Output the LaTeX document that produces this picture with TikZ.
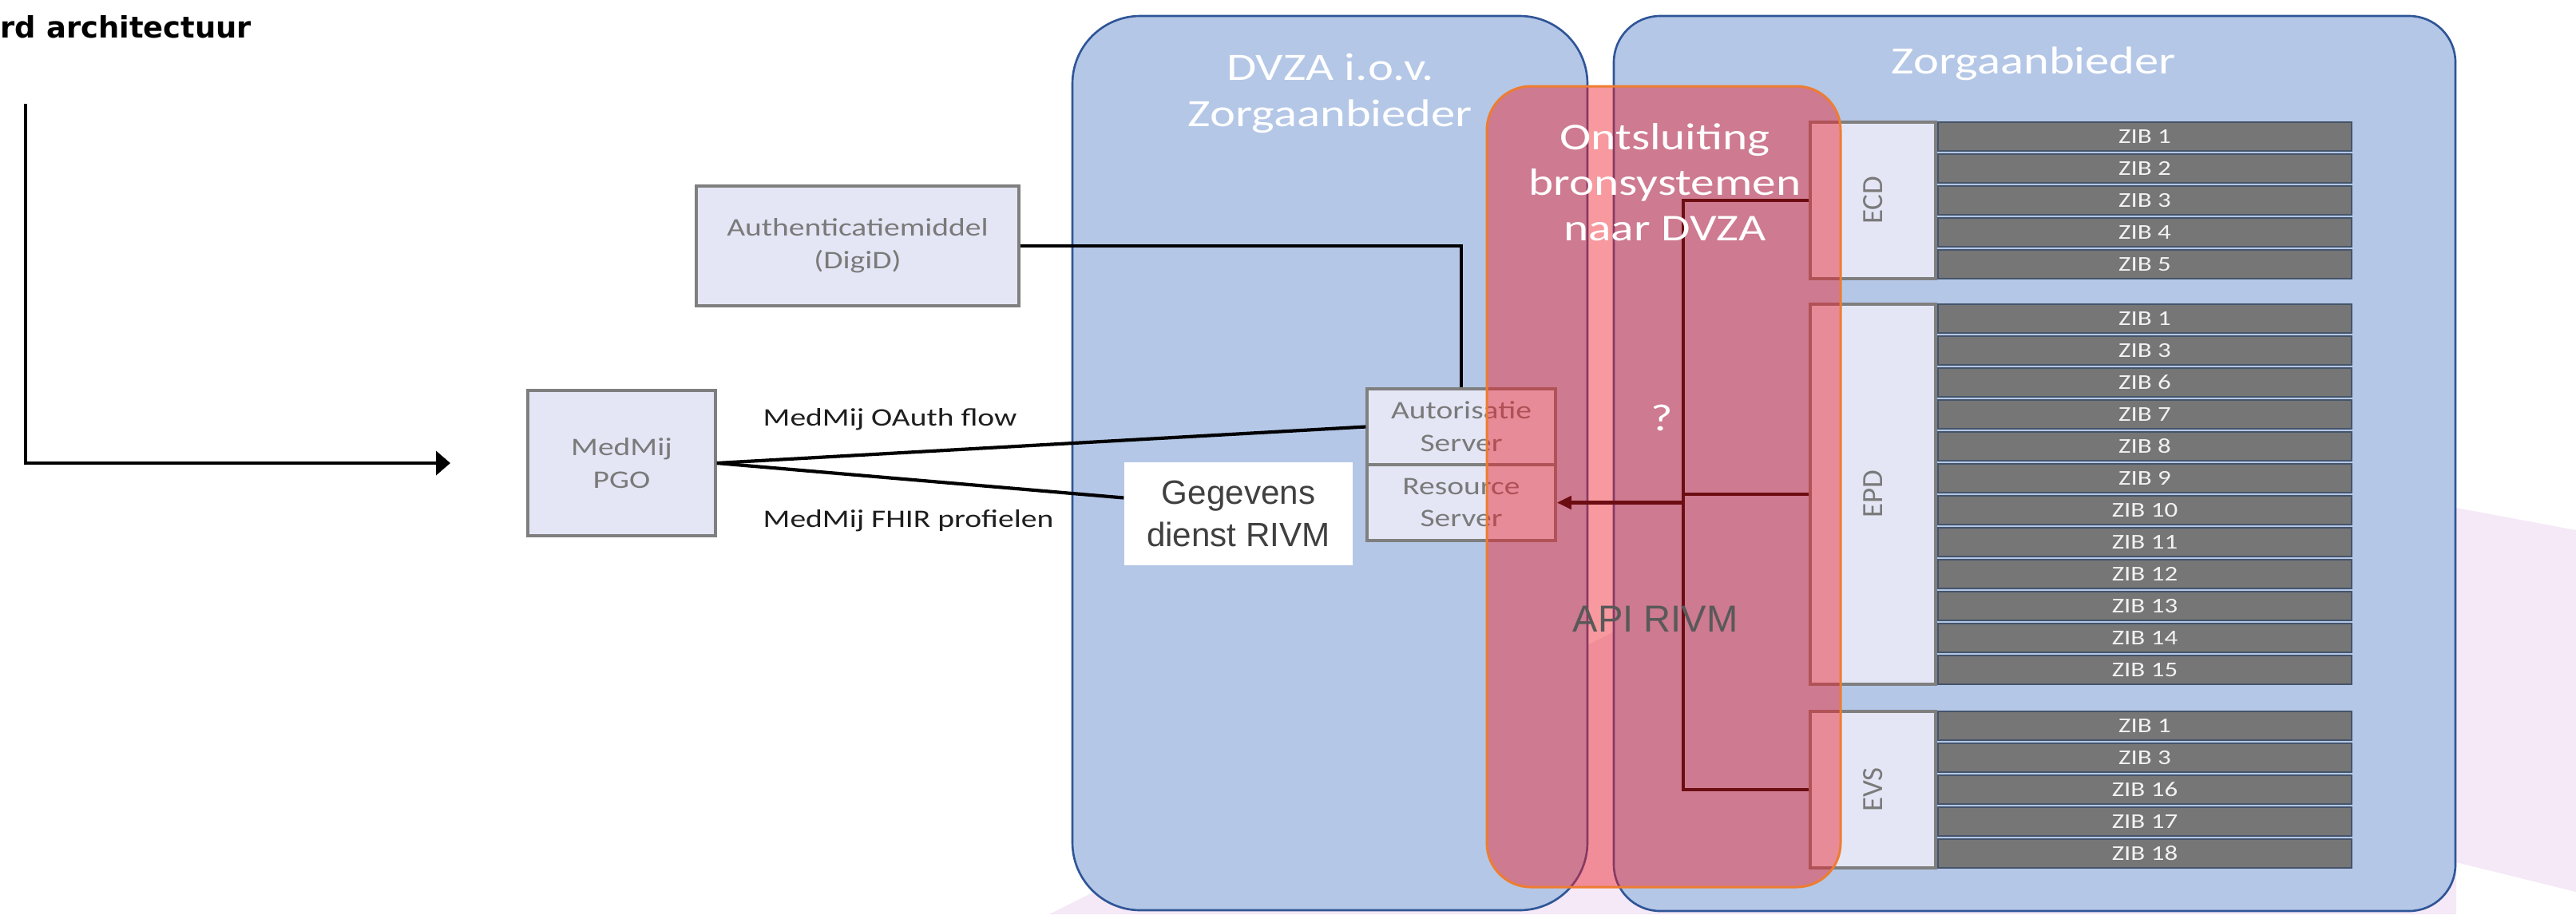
\documentclass[tikz,border=0pt]{standalone}
\usepackage{fontspec}
\usepackage{graphicx}
\setmainfont{Carlito}[FakeStretch=1.25]
\newfontfamily\sysfont{Carlito}
\newfontfamily\rivmfont{Liberation Sans}
\newfontfamily\titlefont{DejaVu Sans}
\usetikzlibrary{arrows.meta}
\definecolor{panelblue}{HTML}{B4C7E7}
\definecolor{panelline}{HTML}{2F5597}
\definecolor{boxfill}{HTML}{E4E6F5}
\definecolor{boxline}{HTML}{7F7F7F}
\definecolor{boxtext}{HTML}{7A7A7A}
\definecolor{zibfill}{HTML}{767676}
\definecolor{zibline}{HTML}{44546A}
\definecolor{zibtext}{HTML}{F2F2F2}
\definecolor{overlayred}{RGB}{238,29,40}
\definecolor{overlayline}{HTML}{ED7D31}
\definecolor{backpink}{HTML}{F5E8F7}
\definecolor{rivmtext}{HTML}{404040}
\definecolor{apitext}{HTML}{595959}
\definecolor{labeltext}{HTML}{1E1E1E}

\begin{document}
\begin{tikzpicture}[inner sep=0pt,
  panel/.style={draw=panelline,fill=panelblue,line width=0.75pt},
  graybox/.style={draw=boxline,fill=boxfill,line width=1pt,text=boxtext,align=center,font=\fontsize{9pt}{11.6pt}\selectfont},
  sysbox/.style={graybox,minimum width=1.57cm,font=\sysfont\fontsize{10.5pt}{12pt}\selectfont},
  zib/.style={draw=zibline,fill=zibfill,line width=0.6pt,text=zibtext,minimum width=5.18cm,minimum height=0.36cm,font=\fontsize{7.5pt}{9pt}\selectfont},
  link/.style={line width=1.2pt},
  feed/.style={line width=1.3pt},
  white text/.style={text=white,align=center}]
\useasboundingbox (0,0) rectangle (32.26,-11.45);
% background shape
\fill[backpink] (13.14,-11.45) -- (25.34,-5.35) -- (32.26,-6.64) -- (32.26,-11.17) -- (30.76,-10.80) -- (30.76,-11.45) -- cycle;
% panels
\node (dvza) at (16.655,-5.80) [panel,rounded corners=0.85cm,minimum width=6.45cm,minimum height=11.20cm] {};
\node (zorg) at (25.48,-5.805) [panel,rounded corners=0.58cm,minimum width=10.54cm,minimum height=11.21cm] {};
\node (dvzatitle) at (16.66,-1.17) [white text,font=\fontsize{13.8pt}{16.5pt}\selectfont] {DVZA i.o.v.\\Zorgaanbieder};
\node (zorgtitle) at (25.47,-0.80) [white text,font=\fontsize{13.8pt}{16pt}\selectfont] {Zorgaanbieder};
% left side
\node (auth) at (10.74,-3.08) [graybox,minimum width=4.04cm,minimum height=1.50cm] {Authenticatiemiddel\\(DigiD)};
\node (pgo) at (7.785,-5.80) [graybox,minimum width=2.35cm,minimum height=1.82cm] {MedMij\\PGO};
\node (autor) at (18.30,-5.345) [graybox,minimum width=2.36cm,minimum height=0.95cm] {Autorisatie\\Server};
\node (res) at (18.30,-6.295) [graybox,minimum width=2.36cm,minimum height=0.95cm] {Resource\\Server};
\node (rivm) at (15.51,-6.435) [fill=white,minimum width=2.86cm,minimum height=1.29cm,align=center,text=rivmtext,font=\rivmfont\fontsize{12pt}{15pt}\selectfont] {Gegevens\\dienst RIVM};
% bronsystemen
\node (ecd) at (23.455,-2.51) [sysbox,minimum height=1.96cm] {\rotatebox{90}{ECD}};
\node (epd) at (23.455,-6.19) [sysbox,minimum height=4.76cm] {\rotatebox{90}{EPD}};
\node (evs) at (23.455,-9.89) [sysbox,minimum height=1.96cm] {\rotatebox{90}{EVS}};
\node (ecd1) at (26.86,-1.71) [zib] {ZIB 1};
\node (ecd2) at (26.86,-2.11) [zib] {ZIB 2};
\node (ecd3) at (26.86,-2.51) [zib] {ZIB 3};
\node (ecd4) at (26.86,-2.91) [zib] {ZIB 4};
\node (ecd5) at (26.86,-3.31) [zib] {ZIB 5};
\node (epd1) at (26.86,-3.99) [zib] {ZIB 1};
\node (epd3) at (26.86,-4.39) [zib] {ZIB 3};
\node (epd6) at (26.86,-4.79) [zib] {ZIB 6};
\node (epd7) at (26.86,-5.19) [zib] {ZIB 7};
\node (epd8) at (26.86,-5.59) [zib] {ZIB 8};
\node (epd9) at (26.86,-5.99) [zib] {ZIB 9};
\node (epd10) at (26.86,-6.39) [zib] {ZIB 10};
\node (epd11) at (26.86,-6.79) [zib] {ZIB 11};
\node (epd12) at (26.86,-7.19) [zib] {ZIB 12};
\node (epd13) at (26.86,-7.59) [zib] {ZIB 13};
\node (epd14) at (26.86,-7.99) [zib] {ZIB 14};
\node (epd15) at (26.86,-8.39) [zib] {ZIB 15};
\node (evs1) at (26.86,-9.09) [zib] {ZIB 1};
\node (evs3) at (26.86,-9.49) [zib] {ZIB 3};
\node (evs16) at (26.86,-9.89) [zib] {ZIB 16};
\node (evs17) at (26.86,-10.29) [zib] {ZIB 17};
\node (evs18) at (26.86,-10.69) [zib] {ZIB 18};
% connectors
\draw[link] (auth.east) -| (autor.north);
\draw[link] (pgo.east) -- (autor.west);
\draw[link] (pgo.east) -- ([yshift=0.2cm]rivm.west);
\coordinate (bus) at (21.08,-6.295);
\draw[feed] (ecd.west) -| (bus |- evs.west) -- (evs.west);
\draw[feed] (epd.west) -- (epd.west -| bus);
\draw[feed,-{Triangle[length=0.18cm,width=0.16cm]}] (bus) -- (res.east);
% ontsluiting
\node (ontsl) at (20.835,-6.095) [draw=overlayline,line width=0.85pt,fill=overlayred,fill opacity=0.45,rounded corners=0.55cm,minimum width=4.43cm,minimum height=10.03cm] {};
\node (ontsltitle) at (20.85,-2.28) [white text,font=\fontsize{13.5pt}{16.2pt}\selectfont] {Ontsluiting\\bronsystemen\\naar DVZA};
\node (question) at (20.81,-5.23) [text=white,font=\fontsize{13.5pt}{16pt}\selectfont] {?};
\node (api) at (20.73,-7.75) [text=apitext,font=\rivmfont\fontsize{13.4pt}{16pt}\selectfont] {API RIVM};
% labels
\node (oauth) at (9.55,-5.25) [anchor=west,text=labeltext,font=\fontsize{9pt}{11pt}\selectfont] {MedMij OAuth flow};
\node (fhir) at (9.55,-6.52) [anchor=west,text=labeltext,font=\fontsize{9pt}{11pt}\selectfont] {MedMij FHIR profielen};
\node (title) at (0,-0.47) [anchor=base west,font=\titlefont\bfseries\fontsize{10.5pt}{12pt}\selectfont] {rd architectuur};
\coordinate (flowtop) at (0.32,-1.30);
\coordinate (flowend) at (5.64,-5.80);
\draw[line width=1.1pt,-{Triangle[length=0.18cm,width=0.30cm]}] (flowtop) |- (flowend);
\end{tikzpicture}
\end{document}
